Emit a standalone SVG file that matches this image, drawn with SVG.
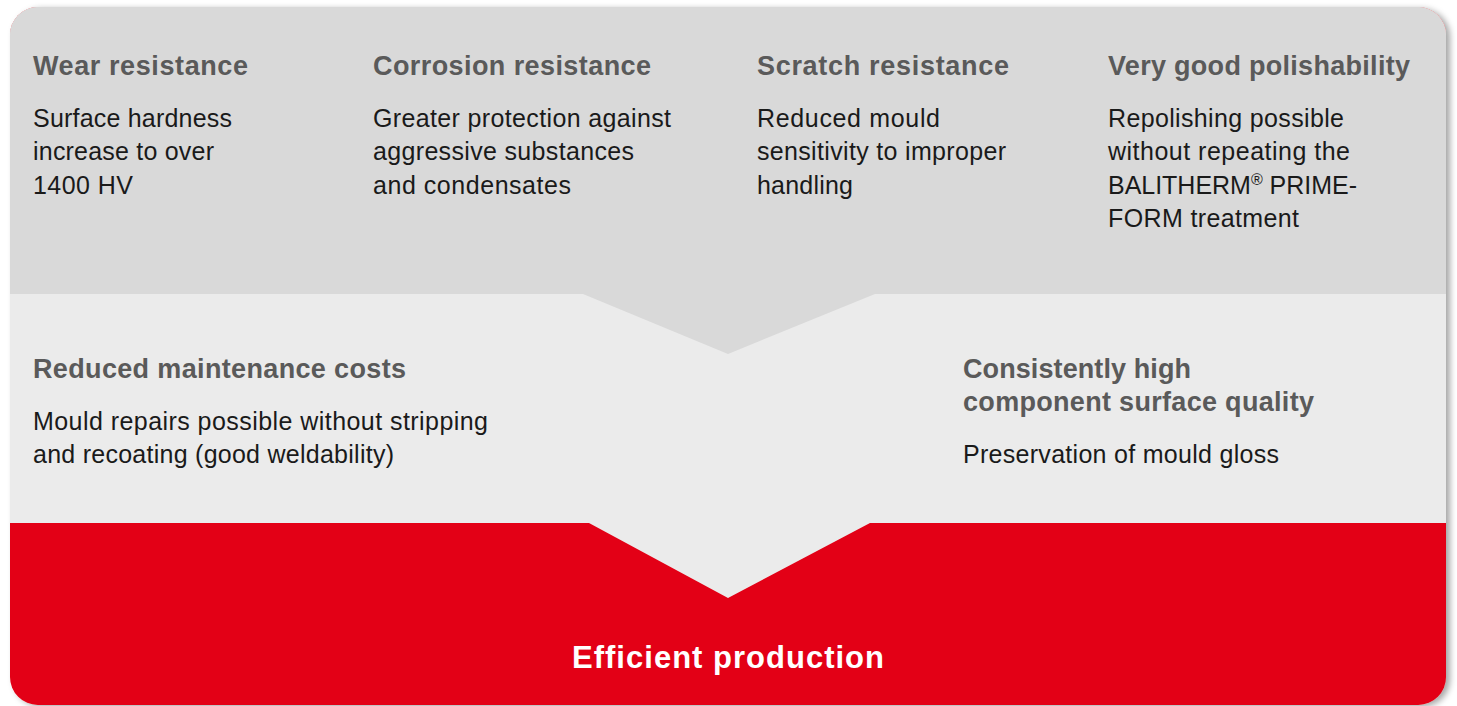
<svg xmlns="http://www.w3.org/2000/svg" width="1457" height="706" viewBox="0 0 1457 706">
<defs>
<clipPath id="card"><rect x="10" y="7" width="1436" height="698" rx="28" ry="28"/></clipPath>
<filter id="shadow" x="-5%" y="-5%" width="110%" height="110%">
<feDropShadow dx="4" dy="2" stdDeviation="3" flood-color="#000" flood-opacity="0.35"/>
</filter>
<style>
.h{font-family:"Liberation Sans",Arial,Helvetica,sans-serif;font-weight:bold;font-size:27px;fill:#5a5a5a}
.b{font-family:"Liberation Sans",Arial,Helvetica,sans-serif;font-size:25px;fill:#1a1a1a}
.t{font-family:"Liberation Sans",Arial,Helvetica,sans-serif;font-weight:bold;font-size:31px;fill:#ffffff}
</style>
</defs>
<rect width="1457" height="706" fill="#ffffff"/>
<g id="background">
<rect x="10" y="7" width="1436" height="698" rx="28" ry="28" fill="#e30613" filter="url(#shadow)"/>
<g clip-path="url(#card)">
<polygon points="0,0 1457,0 1457,523 870,523 728,598 589,523 0,523" fill="#ebebeb"/>
<polygon points="0,0 1457,0 1457,294 875,294 728,354 583,294 0,294" fill="#d9d9d9"/>
</g>
</g>
<g id="wear">
<text class="h" x="33" y="75" textLength="215">Wear resistance</text>
<text class="b" x="33" y="127" textLength="199">Surface hardness</text>
<text class="b" x="33" y="160" textLength="181">increase to over</text>
<text class="b" x="33" y="194" textLength="100">1400 HV</text>
</g>
<g id="corrosion">
<text class="h" x="373" y="75" textLength="278">Corrosion resistance</text>
<text class="b" x="373" y="127" textLength="298">Greater protection against</text>
<text class="b" x="373" y="160" textLength="261">aggressive substances</text>
<text class="b" x="373" y="194" textLength="198">and condensates</text>
</g>
<g id="scratch">
<text class="h" x="757" y="75" textLength="252">Scratch resistance</text>
<text class="b" x="757" y="127" textLength="183">Reduced mould</text>
<text class="b" x="757" y="160" textLength="249">sensitivity to improper</text>
<text class="b" x="757" y="194" textLength="96">handling</text>
</g>
<g id="polish">
<text class="h" x="1108" y="75" textLength="302">Very good polishability</text>
<text class="b" x="1108" y="127" textLength="236">Repolishing possible</text>
<text class="b" x="1108" y="160" textLength="242">without repeating the</text>
<text class="b" x="1108" y="194" textLength="249">BALITHERM<tspan font-size="16" dy="-9">®</tspan><tspan dy="9"> PRIME-</tspan></text>
<text class="b" x="1108" y="227" textLength="191">FORM treatment</text>
</g>
<g id="maintenance">
<text class="h" x="33" y="378" textLength="373">Reduced maintenance costs</text>
<text class="b" x="33" y="430" textLength="455">Mould repairs possible without stripping</text>
<text class="b" x="33" y="463" textLength="361">and recoating (good weldability)</text>
</g>
<g id="quality">
<text class="h" x="963" y="378" textLength="228">Consistently high</text>
<text class="h" x="963" y="411" textLength="351">component surface quality</text>
<text class="b" x="963" y="463" textLength="316">Preservation of mould gloss</text>
</g>
<g id="result">
<text class="t" x="728" y="668" text-anchor="middle" textLength="312">Efficient production</text>
</g>
</svg>
